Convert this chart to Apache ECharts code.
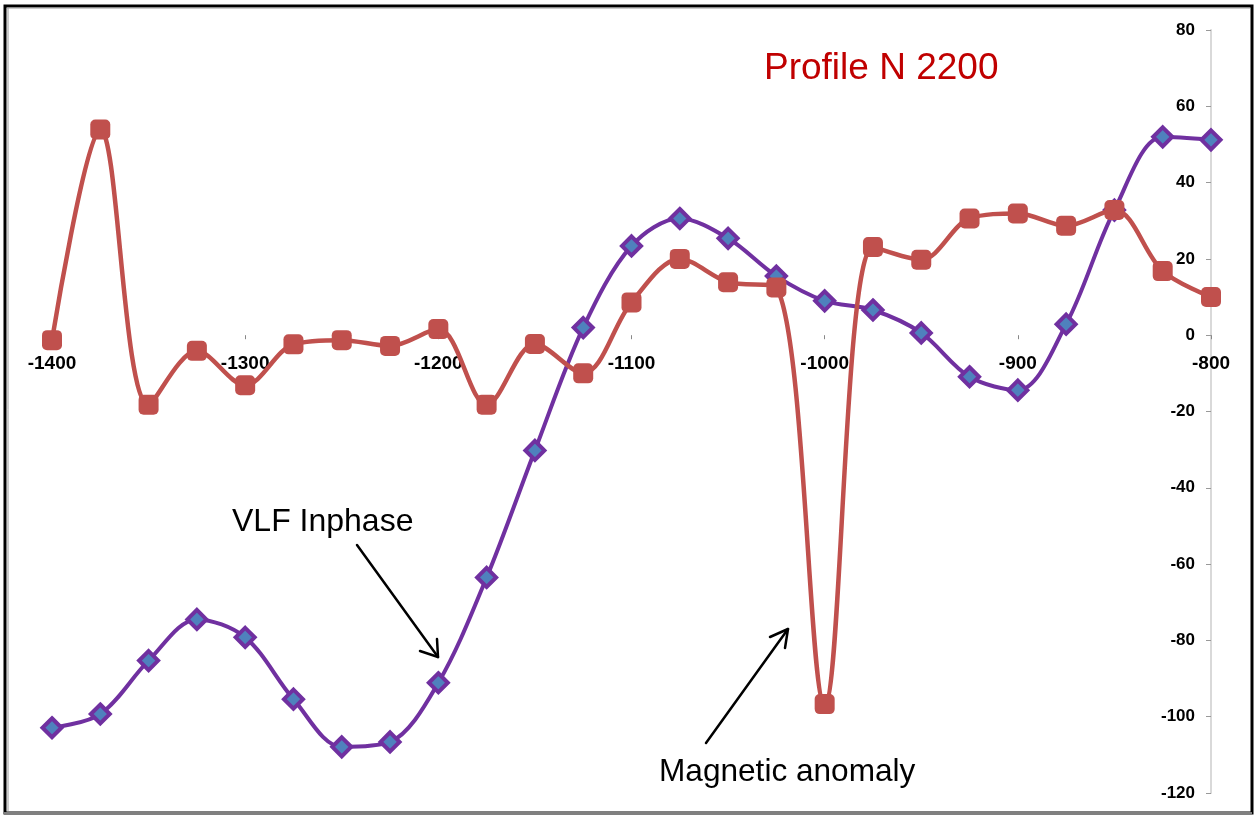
<!DOCTYPE html>
<html>
<head>
<meta charset="utf-8">
<title>Profile N 2200</title>
<script src="https://cdn.jsdelivr.net/npm/echarts@6/dist/echarts.min.js"></script>
<style>
  html, body { margin: 0; padding: 0; background: #fff; }
  #chart { width: 1257px; height: 816px; }
</style>
</head>
<body>
<div id="chart"></div>
<script>
// Station positions along the profile (m)
const stations = [-1400, -1375, -1350, -1325, -1300, -1275, -1250, -1225, -1200, -1175,
                  -1150, -1125, -1100, -1075, -1050, -1025, -1000, -975, -950, -925,
                  -900, -875, -850, -825, -800];

// Magnetic anomaly readings
const magnetic = [-1.3, 53.9, -18.2, -4.1, -13.1, -2.4, -1.3, -2.8, 1.6, -18.2,
                  -2.3, -10, 8.6, 20, 13.9, 12.5, -96.7, 23.1, 19.8, 30.6,
                  31.9, 28.7, 32.8, 16.8, 10];

// VLF in-phase readings
const vlfInphase = [-102.9, -99.3, -85.3, -74.5, -79.2, -95.4, -107.9, -106.6, -91.1, -63.5,
                    -30.2, 2.0, 23.4, 30.6, 25.4, 15.5, 9.0, 6.6, 0.6, -10.9,
                    -14.4, 2.9, 32.8, 52, 51.2];

const xTicks = { min: -1400, max: -800, step: 100 };
const yTicks = { min: -120, max: 80, step: 20 };

const pairs = (vals) => stations.map((x, i) => [x, vals[i]]);

const GRID = { left: 52, right: 46, top: 30, bottom: 23 };
const CHART_H = 816;
// the horizontal axis crosses the vertical one at zero: lift it from the grid bottom
const plotH = CHART_H - GRID.top - GRID.bottom;
const zeroLift = plotH * (0 - yTicks.min) / (yTicks.max - yTicks.min);

const chart = echarts.init(document.getElementById('chart'), null, { renderer: 'canvas' });

const arrowStyle = { stroke: '#000', lineWidth: 2.5, fill: null, lineCap: 'round', lineJoin: 'round' };
const FONT = 'Liberation Sans, Arial, sans-serif';

chart.setOption({
  backgroundColor: '#fff',
  animation: false,
  grid: Object.assign({ containLabel: false }, GRID),
  xAxis: {
    type: 'value',
    position: 'bottom',
    offset: -zeroLift,
    min: xTicks.min,
    max: xTicks.max,
    interval: xTicks.step,
    splitLine: { show: false },
    axisLine: { show: false, onZero: false },
    axisTick: { show: true, length: 4, lineStyle: { color: '#888', width: 1 } },
    axisLabel: {
      margin: 19,
      color: '#000',
      fontFamily: FONT,
      fontWeight: 'bold',
      fontSize: 19,
      formatter: (v) => String(v)
    }
  },
  yAxis: {
    type: 'value',
    position: 'right',
    min: yTicks.min,
    max: yTicks.max,
    interval: yTicks.step,
    splitLine: { show: false },
    axisLine: { show: true, onZero: false, lineStyle: { color: '#D9D9D9', width: 2 } },
    axisTick: { show: true, inside: true, length: 5, lineStyle: { color: '#999', width: 1 } },
    axisLabel: {
      inside: true,
      margin: 16,
      color: '#000',
      fontFamily: FONT,
      fontWeight: 'bold',
      fontSize: 17,
      formatter: (v) => String(v)
    }
  },
  series: [
    {
      name: 'VLF Inphase',
      type: 'line',
      data: pairs(vlfInphase),
      smooth: 0.33,
      symbol: 'diamond',
      symbolSize: 19,
      lineStyle: { color: '#7030A0', width: 4 },
      itemStyle: { color: '#4F81BD', borderColor: '#7030A0', borderWidth: 4 },
      z: 2
    },
    {
      name: 'Magnetic anomaly',
      type: 'line',
      data: pairs(magnetic),
      smooth: 0.33,
      symbol: 'roundRect',
      symbolSize: 20,
      lineStyle: { color: '#C0504D', width: 4.5 },
      itemStyle: { color: '#C0504D' },
      z: 3
    }
  ],
  graphic: [
    // outer frame
    { type: 'rect', shape: { x: 5, y: 6, width: 1247, height: 807 },
      style: { fill: null, stroke: '#000', lineWidth: 3 }, z: 10 },
    { type: 'line', shape: { x1: 7, y1: 8, x2: 1250, y2: 8 }, style: { stroke: '#999', lineWidth: 1 }, z: 10 },
    { type: 'line', shape: { x1: 8, y1: 8, x2: 8, y2: 811 }, style: { stroke: '#999', lineWidth: 1 }, z: 10 },
    { type: 'line', shape: { x1: 4, y1: 813.5, x2: 1252, y2: 813.5 }, style: { stroke: '#808080', lineWidth: 3 }, z: 11 },
    // title
    { type: 'text', left: 764, top: 50,
      style: { text: 'Profile N 2200', fill: '#C00000', fontSize: 37, fontFamily: FONT }, z: 10 },
    // annotations
    { type: 'text', left: 232, top: 506,
      style: { text: 'VLF Inphase', fill: '#000', fontSize: 32, fontFamily: FONT }, z: 10 },
    { type: 'polyline', shape: { points: [[357, 545], [438, 657]] }, style: arrowStyle, z: 10 },
    { type: 'polyline', shape: { points: [[420, 651], [438, 657], [437, 639]] }, style: arrowStyle, z: 10 },
    { type: 'text', left: 659, top: 756,
      style: { text: 'Magnetic anomaly', fill: '#000', fontSize: 31.6, fontFamily: FONT }, z: 10 },
    { type: 'polyline', shape: { points: [[706, 743], [788, 629]] }, style: arrowStyle, z: 10 },
    { type: 'polyline', shape: { points: [[770, 637], [788, 629], [785, 648]] }, style: arrowStyle, z: 10 }
  ]
});
</script>
</body>
</html>
